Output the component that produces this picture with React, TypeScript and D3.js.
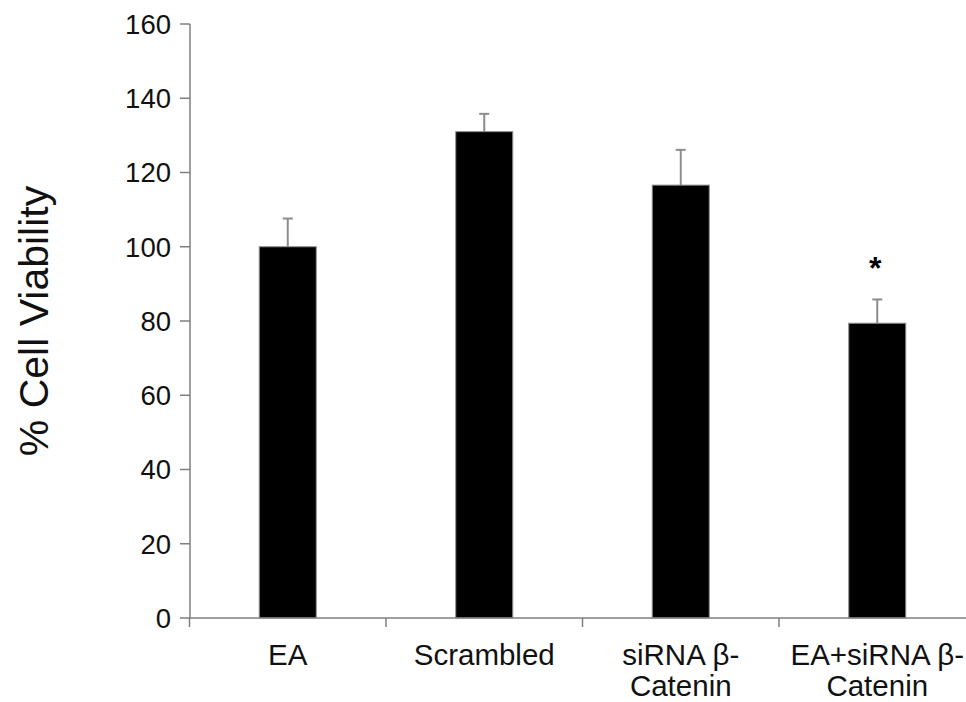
import React from "react";
import * as d3 from "d3";

const categories = ["EA", "Scrambled", "siRNA β-\nCatenin", "EA+siRNA β-\nCatenin"];
const values = [100, 131, 116.6, 79.4];
const errors = [7.6, 4.8, 9.5, 6.4];
const significance = ["", "", "", "*"];
const yTicks = [0, 20, 40, 60, 80, 100, 120, 140, 160];

const W = 966;
const H = 702;

export default function App() {
  const x = d3.scaleBand<string>().domain(categories).range([189.5, 975.5]).paddingInner(0).paddingOuter(0);
  const y = d3.scaleLinear().domain([0, 160]).range([618, 24]);
  const barW = 57;
  const axisColor = "#7f7f7f";
  const font = "'Liberation Sans', Arial, sans-serif";
  const x0 = 190;

  return (
    <svg width={W} height={H} style={{ position: "absolute", left: 0, top: 0, background: "#fff" }} fontFamily={font}>
      {categories.map((c, i) => {
        const cx = (x(c) as number) + x.bandwidth() / 2;
        return (
          <g key={c}>
            <line x1={cx} x2={cx} y1={y(values[i])} y2={y(values[i] + errors[i])} stroke="#8c8c8c" strokeWidth={2} />
            <line x1={cx - 5} x2={cx + 5} y1={y(values[i] + errors[i])} y2={y(values[i] + errors[i])} stroke="#8c8c8c" strokeWidth={2} />
            <rect x={cx - barW / 2} y={y(values[i])} width={barW} height={y(0) - y(values[i])} fill="#000" stroke="#8c8c8c" strokeWidth={1} />
            {significance[i] && (
              <text x={cx - 2} y={y(values[i] + errors[i]) - 20} textAnchor="middle" fontSize={32} fontWeight={600} fill="#000">
                {significance[i]}
              </text>
            )}
          </g>
        );
      })}
      <line x1={x0} x2={x0} y1={y(160)} y2={y(0)} stroke={axisColor} strokeWidth={1.5} />
      {yTicks.map((t) => (
        <g key={t}>
          <line x1={180} x2={x0} y1={y(t)} y2={y(t)} stroke={axisColor} strokeWidth={1.5} />
          <text x={171} y={y(t)} dy="0.36em" textAnchor="end" fontSize={27.5} fill="#111">
            {t}
          </text>
        </g>
      ))}
      <line x1={x0} x2={W} y1={y(0)} y2={y(0)} stroke={axisColor} strokeWidth={1.5} />
      {categories.map((c) => (
        <line key={"t" + c} x1={x(c) as number} x2={x(c) as number} y1={y(0)} y2={y(0) + 9} stroke={axisColor} strokeWidth={1.5} />
      ))}
      {categories.map((c) => {
        const cx = (x(c) as number) + x.bandwidth() / 2;
        const lines = c.split("\n");
        return (
          <text key={"l" + c} x={cx} y={665} textAnchor="middle" fontSize={29.5} fill="#111">
            {lines.map((ln, j) => (
              <tspan key={j} x={cx} dy={j === 0 ? 0 : 31}>
                {ln}
              </tspan>
            ))}
          </text>
        );
      })}
      <text transform="translate(48,321) rotate(-90)" textAnchor="middle" fontSize={41} fill="#111">
        % Cell Viability
      </text>
    </svg>
  );
}
